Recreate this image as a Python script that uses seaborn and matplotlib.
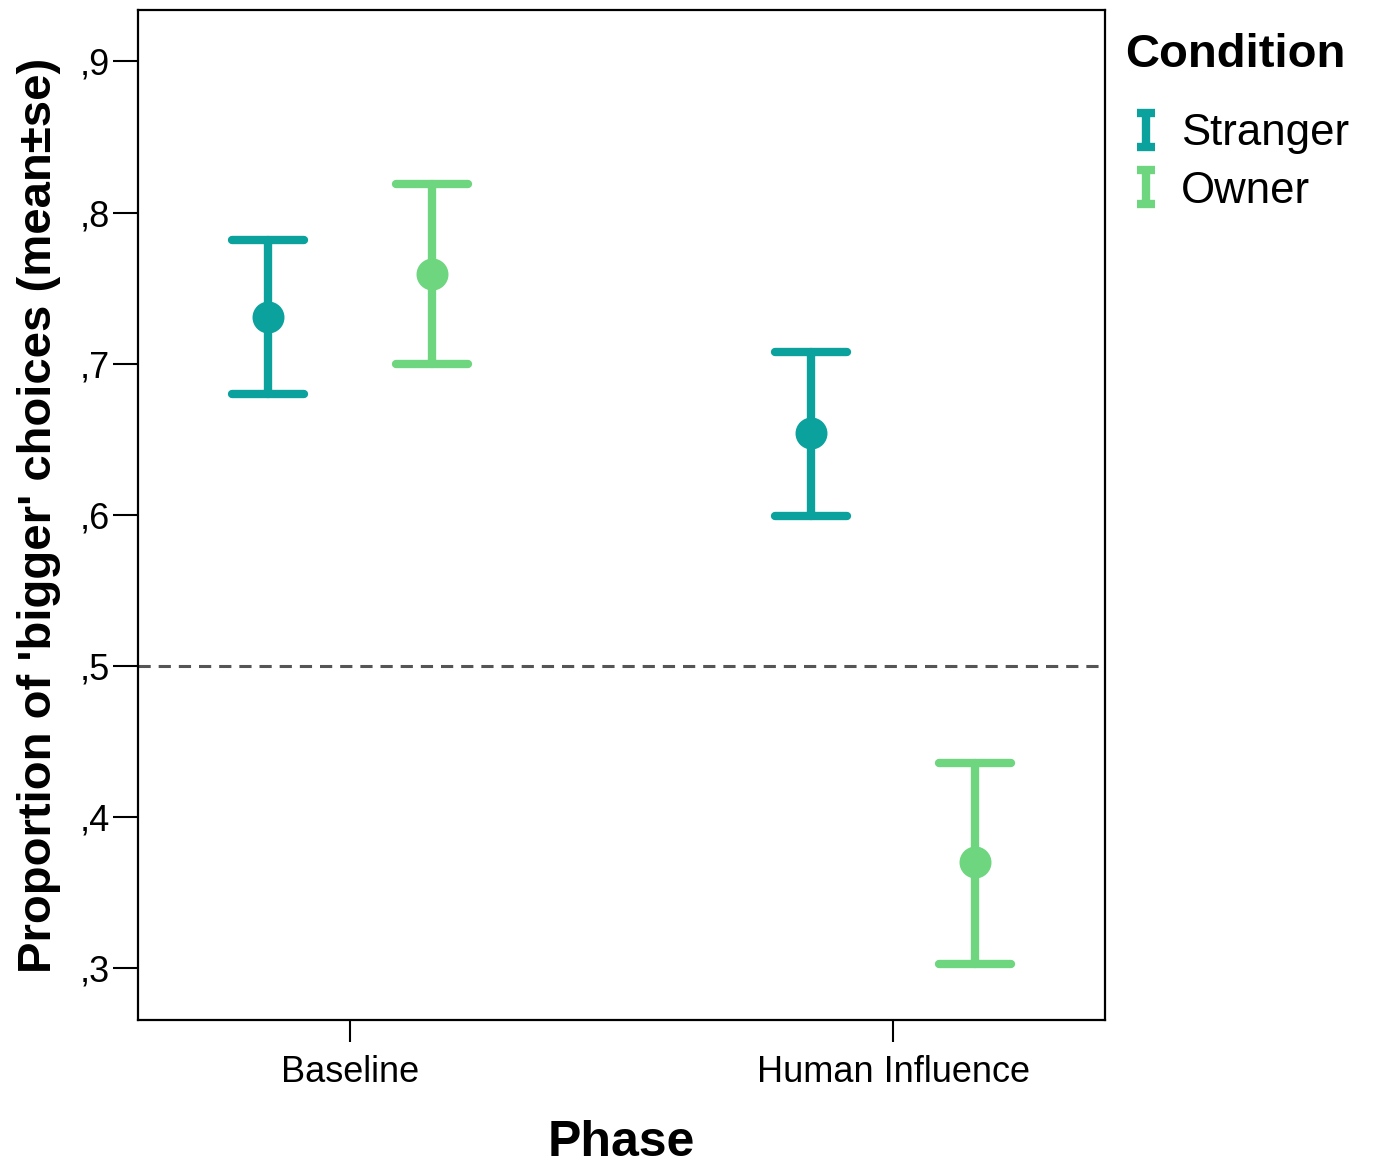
import numpy as np
import pandas as pd
import seaborn as sns
import matplotlib.pyplot as plt
from matplotlib.lines import Line2D
from matplotlib.path import Path
from matplotlib.ticker import FuncFormatter

sns.set_style("ticks")
plt.rcParams['font.family'] = ['Liberation Sans', 'DejaVu Sans']
plt.rcParams['text.color'] = 'black'
plt.rcParams['axes.labelcolor'] = 'black'

# summary values (mean and mean +/- se)
phases = ["Baseline", "Human Influence"]
conditions = ["Stranger", "Owner"]
stranger_mean = [0.731, 0.654]
stranger_low = [0.680, 0.599]
stranger_high = [0.782, 0.708]
owner_mean = [0.759, 0.370]
owner_low = [0.700, 0.303]
owner_high = [0.819, 0.436]

colors = {"Stranger": "#0ba19d", "Owner": "#6dd67f"}

rows = []
for cond, lo, mid, hi in [("Stranger", stranger_low, stranger_mean, stranger_high),
                          ("Owner", owner_low, owner_mean, owner_high)]:
  for i, ph in enumerate(phases):
    for v in (lo[i], mid[i], hi[i]):
      rows.append({"Phase": ph, "Condition": cond, "value": v})
df = pd.DataFrame(rows)

fig = plt.figure(figsize=(13.75, 11.66), dpi=100)
ax = fig.add_axes([0.1004, 0.1252, 0.7032, 0.8662])

ax.axhline(0.5, ls=(0, (4, 2.6)), color="#555555", lw=2.2, zorder=1)

# median of (lo, mean, hi) is the mean; range gives the se bars
sns.pointplot(data=df, x="Phase", y="value", hue="Condition", order=phases,
              hue_order=conditions, palette=colors, estimator="median",
              errorbar=lambda v: (v.min(), v.max()), dodge=0.302, capsize=0.133,
              linestyle="none", markersize=18.5, linewidth=6,
              err_kws={"linewidth": 6}, legend=False, ax=ax)

ax.set_xlim(-0.39, 1.39)
ax.set_ylim(0.2656, 0.934)
ax.set_yticks([0.3, 0.4, 0.5, 0.6, 0.7, 0.8, 0.9])
ax.yaxis.set_major_formatter(FuncFormatter(lambda v, p: "{:.1f}".format(v).lstrip("0").replace(".", ",")))

for s in ax.spines.values():
  s.set_visible(True)
  s.set_linewidth(1.6)
  s.set_color("black")

ax.tick_params(axis="y", length=18, width=1.5, labelsize=26, pad=2, colors="black")
ax.tick_params(axis="x", length=16, width=1.5, labelsize=26, pad=9, colors="black")

ax.set_xlabel("Phase", fontsize=36, fontweight="bold", labelpad=22)
ax.set_ylabel("Proportion of 'bigger' choices (mean±se)", fontsize=34, fontweight="bold", labelpad=14)

fig.text(1125 / 1375, 1 - 55 / 1166, "Condition", fontsize=34, fontweight="bold",
         ha="left", va="center")

ibeam = Path([(-0.5, 1), (0.5, 1), (0, 1), (0, -1), (-0.5, -1), (0.5, -1)],
             [Path.MOVETO, Path.LINETO, Path.MOVETO, Path.LINETO, Path.MOVETO, Path.LINETO])
handles = [Line2D([], [], linestyle="none", marker=ibeam, markersize=25,
                  markeredgewidth=6, color=colors[c]) for c in conditions]
leg = fig.legend(handles, conditions, loc="upper left",
                 bbox_to_anchor=(1133 / 1375, 1 - 113 / 1166), frameon=False, fontsize=31.5,
                 handlelength=0.6, handletextpad=0.5, labelspacing=0.38,
                 borderpad=0, borderaxespad=0)

fig.savefig("out.png", dpi=100)
